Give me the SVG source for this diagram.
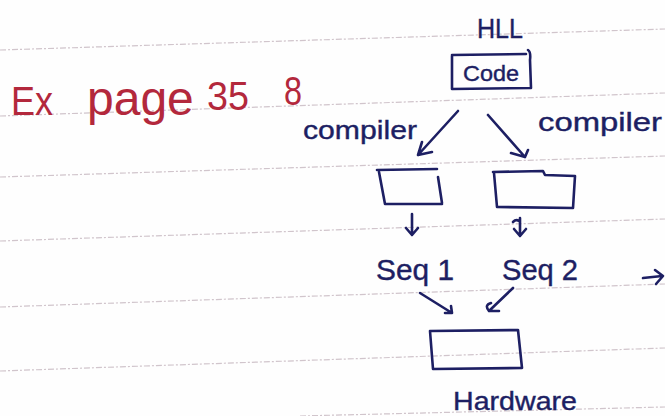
<svg xmlns="http://www.w3.org/2000/svg" width="665" height="416" viewBox="0 0 665 416">
  <style>
    .ink { fill: none; stroke: #1d1f63; stroke-width: 2.6; stroke-linecap: round; stroke-linejoin: round; }
    .txt { fill: #1d1f63; stroke: #1d1f63; stroke-width: 0.4; font-family: "Liberation Sans", "Noto Sans", sans-serif; }
    .red { fill: #b3283c; font-family: "Liberation Sans", "Noto Sans", sans-serif; }
    .rule { fill: none; stroke: #b8a6b0; stroke-width: 1.2; stroke-dasharray: 6 2 2 2; opacity: 0.65; }
  </style>
  <rect width="665" height="416" fill="#fefefe"/>

  <!-- ruled notebook lines -->
  <g id="rules">
    <path class="rule" d="M0,50 L665,29"/>
    <path class="rule" d="M0,116 L665,93"/>
    <path class="rule" d="M0,177 L665,156"/>
    <path class="rule" d="M0,241 L665,219"/>
    <path class="rule" d="M0,307 L665,284"/>
    <path class="rule" d="M0,371 L665,348"/>
    <path class="rule" d="M300,416 L665,407"/>
  </g>

  <!-- heading in red -->
  <g id="heading">
    <text class="red" font-size="40" y="115">
      <tspan x="11" textLength="42" lengthAdjust="spacingAndGlyphs">Ex</tspan><tspan x="87" font-size="48">page</tspan><tspan x="207" y="110" textLength="42" lengthAdjust="spacingAndGlyphs">35</tspan><tspan x="284" y="105" textLength="18" lengthAdjust="spacingAndGlyphs">8</tspan>
    </text>
  </g>

  <g id="hll-code">
    <text class="txt" x="477" y="38" font-size="28" textLength="46" lengthAdjust="spacingAndGlyphs">HLL</text>
    <path class="ink" d="M452,56 L452,89 M452,55 L526,54 M528,50 Q531,52 530,60 L531,88 M452,89 L531,88"/>
    <text class="txt" x="463" y="81" font-size="22" textLength="56" lengthAdjust="spacingAndGlyphs">Code</text>
  </g>

  <g id="compiler-left">
    <text class="txt" x="303" y="139" font-size="26" textLength="114" lengthAdjust="spacingAndGlyphs">compiler</text>
  </g>
  <g id="compiler-right">
    <text class="txt" x="538" y="131" font-size="26" textLength="124" lengthAdjust="spacingAndGlyphs">compiler</text>
  </g>

  <g id="box-left">
    <path class="ink" d="M377,170 L437,169 M438,177 L442,203 M379,172 L385,204 L442,204"/>
  </g>
  <g id="box-right">
    <path class="ink" d="M493,172 L543,171 L545,175 L575,176 L573,208 M494,173 L497,207 L573,208"/>
  </g>

  <g id="seq1">
    <text class="txt" x="376" y="280" font-size="30" textLength="78" lengthAdjust="spacingAndGlyphs">Seq 1</text>
  </g>
  <g id="seq2">
    <text class="txt" x="502" y="280" font-size="30" textLength="76" lengthAdjust="spacingAndGlyphs">Seq 2</text>
  </g>

  <g id="hardware">
    <path class="ink" d="M430,331 L518,330 L522,368 L433,369 L430,331"/>
    <text class="txt" x="453" y="410" font-size="26" textLength="124" lengthAdjust="spacingAndGlyphs">Hardware</text>
  </g>

  <g id="connectors">
    <!-- HLL code to each compiler output -->
    <path class="ink" d="M458,111 L418,155 M418,155 L432,152 M418,155 L422,142"/>
    <path class="ink" d="M488,115 L525,157 M525,157 L528,150 M525,157 L511,153"/>
    <!-- compiled boxes to sequences -->
    <path class="ink" d="M412,214 L412,235 M406,228 L412,235 L418,228"/>
    <path class="ink" d="M520,218 L520,236 M514,229 L520,236 L526,229 M513,222 Q516,219 519,221"/>
    <!-- sequences to hardware -->
    <path class="ink" d="M420,293 L452,313 M452,313 L445,313 M452,313 L451,306"/>
    <path class="ink" d="M513,288 L489,311 M489,311 L499,311 M489,311 Q484,305 491,303"/>
    <!-- arrow leaving the right edge -->
    <path class="ink" d="M643,278 L662,276 M655,270 L663,276 L656,284"/>
  </g>
</svg>
